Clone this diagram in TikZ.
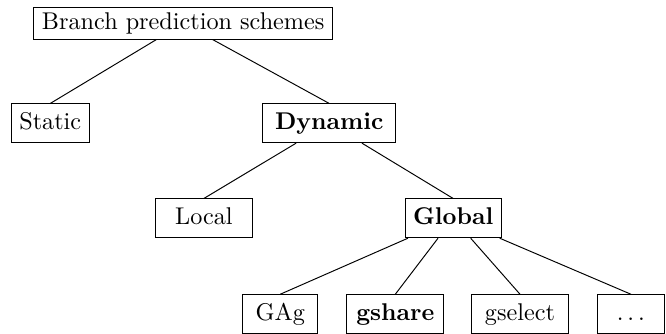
\documentclass[tikz,border=0pt]{standalone}
\usepackage{tikz}

\begin{document}
\begin{tikzpicture}[x=1cm,y=1cm,
  schemebox/.style={draw,text height=7pt,text depth=2pt,inner ysep=3.5pt}]
\path[use as bounding box] (0,0) rectangle (9.67,4.84);
\node[draw,inner ysep=2pt] (root) at (2.66,4.50) {Branch prediction schemes};
\node[schemebox] (static) at (0.73,3.05) {Static};
\node[schemebox,minimum width=55pt] (dynamic) at (4.78,3.05) {\textbf{Dynamic}};
\node[schemebox,minimum width=40pt] (local) at (2.96,1.67) {Local};
\node[schemebox] (global) at (6.58,1.67) {\textbf{Global}};
\node[schemebox,minimum width=31pt] (gag) at (4.07,0.28) {GAg};
\node[schemebox,minimum width=40pt] (gshare) at (5.74,0.28) {\textbf{gshare}};
\node[schemebox,minimum width=40pt] (gselect) at (7.55,0.28) {gselect};
\node[schemebox,minimum width=28pt] (more) at (9.16,0.28) {$\ldots$};
\draw (root) -- (static.north);
\draw (root) -- (dynamic.north);
\draw (dynamic) -- (local.north);
\draw (dynamic) -- (global.north);
\draw (global) -- (gag.north);
\draw (global) -- (gshare.north);
\draw (global) -- (gselect.north);
\draw (global) -- (more.north);
\end{tikzpicture}
\end{document}
